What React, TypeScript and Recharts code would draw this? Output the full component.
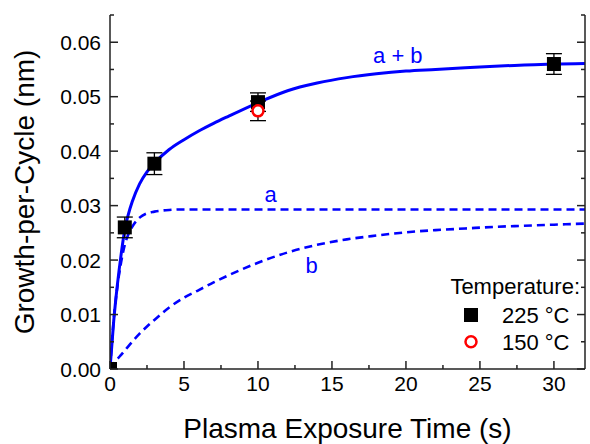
import React from "react";
import {
  ComposedChart,
  Line,
  Scatter,
  XAxis,
  YAxis,
  ErrorBar,
  ReferenceDot,
  Label,
} from "recharts";

// fitted curves
const curveTime = [0, 0.25, 0.5, 0.75, 1, 1.25, 1.5, 2, 2.5, 3, 4, 5, 6, 7, 8, 10, 12, 14, 16, 18, 20, 22, 24, 26, 28, 30, 32.1];
const curveSum = [0, 0.0088, 0.0155, 0.021, 0.0256, 0.0285, 0.0307, 0.034, 0.0362, 0.0378, 0.0403, 0.0421, 0.0437, 0.0451, 0.0464, 0.0489, 0.0511, 0.0525, 0.0535, 0.0542, 0.0547, 0.055, 0.0553, 0.0556, 0.0558, 0.056, 0.0561];
const curveA = [0, 0.009, 0.0152, 0.0196, 0.0228, 0.0248, 0.0261, 0.0278, 0.0286, 0.0289, 0.0292, 0.0293, 0.0293, 0.0293, 0.0293, 0.0293, 0.0293, 0.0293, 0.0293, 0.0293, 0.0293, 0.0293, 0.0293, 0.0293, 0.0293, 0.0293, 0.0293];
const curveB = [0, 0.0009, 0.0018, 0.0026, 0.0034, 0.0042, 0.005, 0.0065, 0.0078, 0.009, 0.0113, 0.0131, 0.0145, 0.0159, 0.0172, 0.0195, 0.0214, 0.0228, 0.0238, 0.0245, 0.0251, 0.0255, 0.0258, 0.0261, 0.0263, 0.0265, 0.0267];

// measured points
const time225 = [0, 1, 3, 10, 30];
const gpc225 = [0, 0.026, 0.0377, 0.049, 0.056];
const err225 = [0, 0.0019, 0.002, 0.0017, 0.0019];
const time150 = [10];
const gpc150 = [0.0474];
const err150 = [0.0018];

const xTicks = [0, 2.5, 5, 7.5, 10, 12.5, 15, 17.5, 20, 22.5, 25, 27.5, 30];
const yTicks = [0, 0.005, 0.01, 0.015, 0.02, 0.025, 0.03, 0.035, 0.04, 0.045, 0.05, 0.055, 0.06, 0.065];

const curves = curveTime.map((t, i) => ({ t, sum: curveSum[i], a: curveA[i], b: curveB[i] }));
const pts225 = time225.map((t, i) => ({ t, v: gpc225[i], e: err225[i] }));
const pts150 = time150.map((t, i) => ({ t, v: gpc150[i], e: err150[i] }));

const FONT = "'Liberation Sans', Arial, sans-serif";
const AXIS = "#222";
const BLUE = "#0000ff";
const X_DOMAIN: [number, number] = [0, 32.1];
const Y_DOMAIN: [number, number] = [0, 0.065];

const isMajorX = (v: number) => Math.abs(v % 5) < 1e-9;
const isMajorY = (v: number) => Math.round(v * 1000) % 10 === 0;

function BottomTick({ x, y, payload }: any) {
  const major = isMajorX(payload.value);
  return (
    <g>
      <line x1={x} x2={x} y1={y} y2={y - (major ? 8 : 4)} stroke={AXIS} strokeWidth={1.5} />
      {major && (
        <text x={x} y={y + 22} textAnchor="middle" fontSize={21} fontFamily={FONT} fill="#000">
          {payload.value}
        </text>
      )}
    </g>
  );
}

function TopTick({ x, y, payload }: any) {
  const major = isMajorX(payload.value);
  return <line x1={x} x2={x} y1={y} y2={y + (major ? 8 : 4)} stroke={AXIS} strokeWidth={1.5} />;
}

function LeftTick({ x, y, payload }: any) {
  const major = isMajorY(payload.value);
  return (
    <g>
      <line x1={x} x2={x + (major ? 8 : 4)} y1={y} y2={y} stroke={AXIS} strokeWidth={1.5} />
      {major && payload.value < 0.0625 && (
        <text x={x - 9} y={y + 7.5} textAnchor="end" fontSize={21} fontFamily={FONT} fill="#000">
          {payload.value.toFixed(2)}
        </text>
      )}
    </g>
  );
}

function RightTick({ x, y, payload }: any) {
  const major = isMajorY(payload.value);
  return <line x1={x} x2={x - (major ? 8 : 4)} y1={y} y2={y} stroke={AXIS} strokeWidth={1.5} />;
}

const Square = ({ cx, cy }: any) => <rect x={cx - 7} y={cy - 7} width={14} height={14} fill="#000" />;
const Ring = ({ cx, cy }: any) => (
  <circle cx={cx} cy={cy} r={5.5} fill="#fff" stroke="#ff0000" strokeWidth={2.5} />
);
const Nothing = () => <g />;

const note = (txt: string) => ({ cx, cy }: any) => (
  <text x={cx} y={cy} textAnchor="middle" fontSize={22} fontFamily={FONT} fill={BLUE}>
    {txt}
  </text>
);

export default function App() {
  return (
    <div style={{ position: "absolute", left: 0, top: 0, width: 590, height: 444, background: "#fff" }}>
      <ComposedChart width={590} height={444} data={curves} margin={{ top: 15, right: 0, bottom: 0, left: 0 }}>
        <XAxis
          dataKey="t"
          type="number"
          domain={X_DOMAIN}
          allowDataOverflow
          ticks={xTicks}
          interval={0}
          height={75}
          tickSize={0}
          tickMargin={0}
          tickLine={false}
          tick={<BottomTick />}
          axisLine={{ stroke: AXIS, strokeWidth: 1.5 }}
        >
          <Label
            content={({ viewBox }: any) => (
              <text
                x={viewBox.x + viewBox.width / 2}
                y={438}
                textAnchor="middle"
                fontSize={28}
                fontFamily={FONT}
                fill="#000"
              >
                Plasma Exposure Time (s)
              </text>
            )}
          />
        </XAxis>
        <XAxis
          xAxisId="top"
          orientation="top"
          type="number"
          domain={X_DOMAIN}
          allowDataOverflow
          ticks={xTicks}
          interval={0}
          height={0}
          tickSize={0}
          tickMargin={0}
          tickLine={false}
          tick={<TopTick />}
          axisLine={{ stroke: AXIS, strokeWidth: 1.5 }}
        />
        <YAxis
          type="number"
          domain={Y_DOMAIN}
          allowDataOverflow
          ticks={yTicks}
          interval={0}
          width={110}
          tickSize={0}
          tickMargin={0}
          tickLine={false}
          tick={<LeftTick />}
          axisLine={{ stroke: AXIS, strokeWidth: 1.5 }}
        >
          <Label
            content={({ viewBox }: any) => {
              const cy = viewBox.y + viewBox.height / 2;
              return (
                <text
                  x={34}
                  y={cy}
                  transform={`rotate(-90 34 ${cy})`}
                  textAnchor="middle"
                  fontSize={28}
                  fontFamily={FONT}
                  fill="#000"
                >
                  Growth-per-Cycle (nm)
                </text>
              );
            }}
          />
        </YAxis>
        <YAxis
          yAxisId="right"
          orientation="right"
          type="number"
          domain={Y_DOMAIN}
          allowDataOverflow
          ticks={yTicks}
          interval={0}
          width={5}
          tickSize={0}
          tickMargin={0}
          tickLine={false}
          tick={<RightTick />}
          axisLine={{ stroke: AXIS, strokeWidth: 1.5 }}
        />

        <Line dataKey="b" type="monotone" stroke={BLUE} strokeWidth={2.6} strokeDasharray="8 5" dot={false} isAnimationActive={false} />
        <Line dataKey="a" type="monotone" stroke={BLUE} strokeWidth={2.6} strokeDasharray="8 5" dot={false} isAnimationActive={false} />
        <Line dataKey="sum" type="monotone" stroke={BLUE} strokeWidth={3} dot={false} isAnimationActive={false} />

        {/* 150 °C error bar drawn first so the open circle stays clean */}
        <Scatter data={pts150} dataKey="v" shape={<Nothing />} isAnimationActive={false}>
          <ErrorBar dataKey="e" direction="y" width={8} stroke="#000" strokeWidth={1.3} />
        </Scatter>
        <Scatter data={pts225} dataKey="v" shape={<Square />} isAnimationActive={false}>
          <ErrorBar dataKey="e" direction="y" width={8} stroke="#000" strokeWidth={1.3} />
        </Scatter>
        <Scatter data={pts150} dataKey="v" shape={<Ring />} isAnimationActive={false} />

        <ReferenceDot x={19.45} y={0.0561} r={0} shape={note("a + b")} />
        <ReferenceDot x={10.86} y={0.0307} r={0} shape={note("a")} />
        <ReferenceDot x={13.63} y={0.0177} r={0} shape={note("b")} />
      </ComposedChart>

      <svg
        width={590}
        height={444}
        style={{ position: "absolute", left: 0, top: 0, pointerEvents: "none" }}
        fontFamily={FONT}
      >
        <text x={580} y={294} textAnchor="end" fontSize={22} fill="#000">
          Temperature:
        </text>
        <rect x={464} y={308} width={14} height={14} fill="#000" />
        <text x={502} y={323} fontSize={22} fill="#000">
          225 °C
        </text>
        <circle cx={471} cy={341.7} r={5.5} fill="#fff" stroke="#ff0000" strokeWidth={2.5} />
        <text x={502} y={349.5} fontSize={22} fill="#000">
          150 °C
        </text>
      </svg>
    </div>
  );
}
